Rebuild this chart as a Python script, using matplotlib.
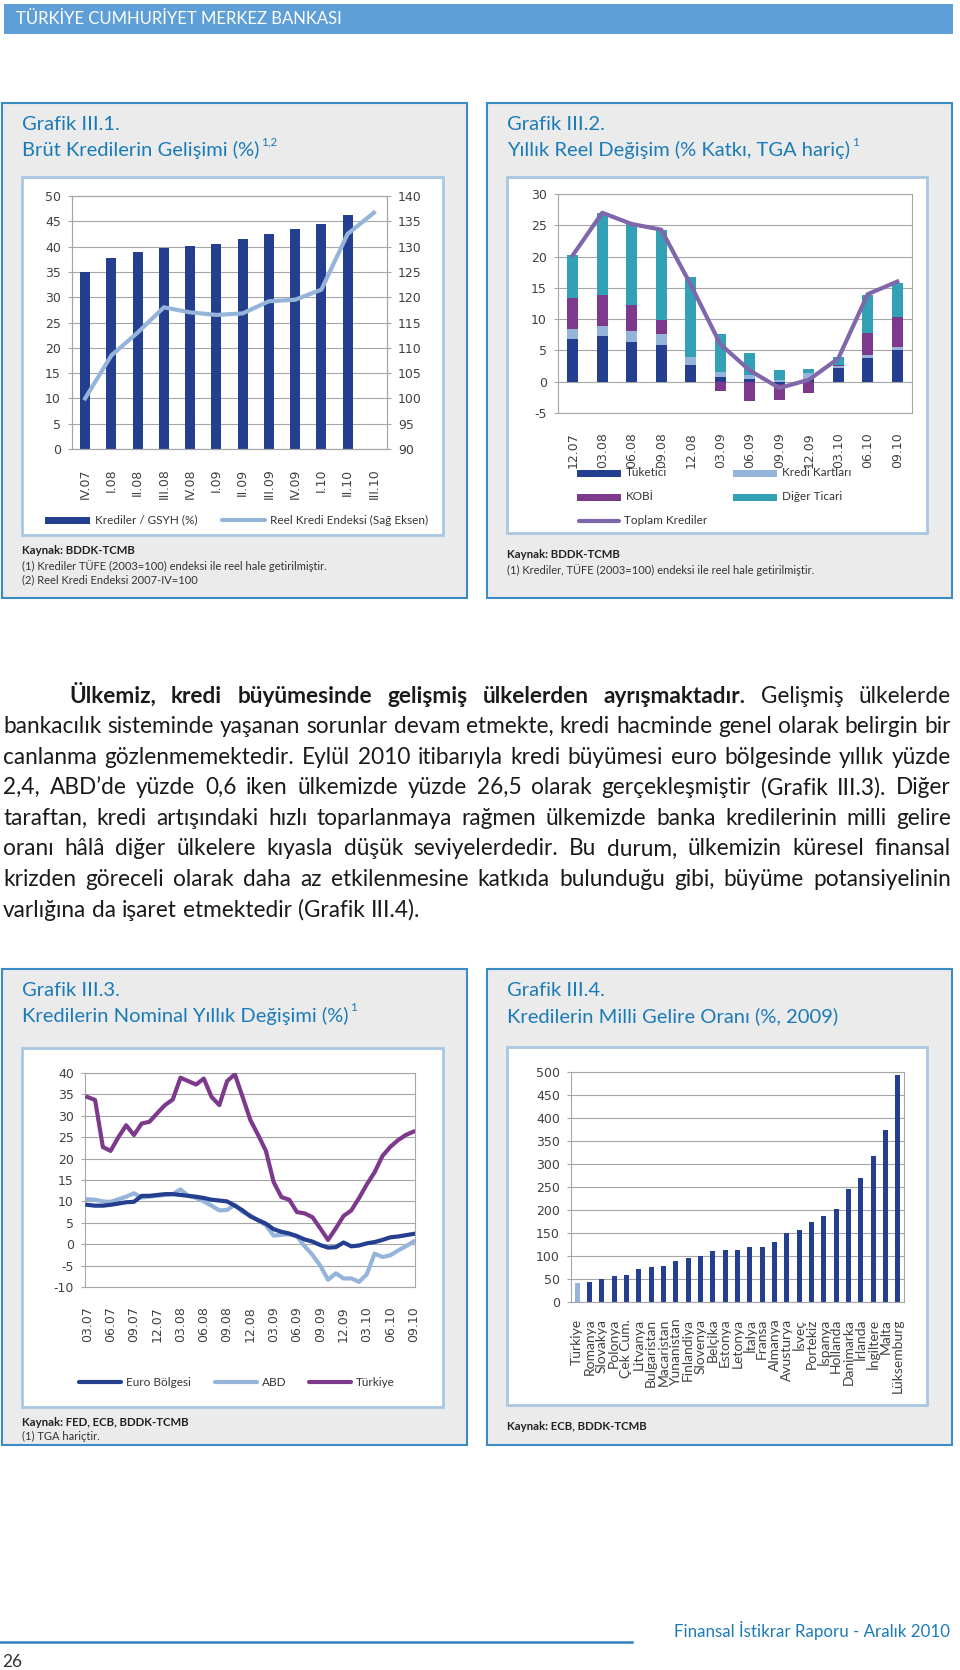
import matplotlib
matplotlib.use("Agg")
import numpy as np
import matplotlib.pyplot as plt
from matplotlib.patches import Rectangle
from matplotlib.lines import Line2D

#####################################################################################
# data

# Grafik III.1
quarters = ["IV.07", "I.08", "II.08", "III.08", "IV.08", "I.09",
            "II.09", "III.09", "IV.09", "I.10", "II.10", "III.10"]
credit_gdp = [35.0, 37.8, 39.0, 39.8, 40.1, 40.6, 41.5, 42.5, 43.5, 44.4, 46.3]
real_credit_idx = [100.0, 108.5, 113.0, 118.0, 117.0, 116.5, 116.8, 119.2,
                   119.5, 121.5, 132.5, 136.7]

# Grafik III.2
periods = ["12.07", "03.08", "06.08", "09.08", "12.08", "03.09",
           "06.09", "09.09", "12.09", "03.10", "06.10", "09.10"]
tuketici = [6.8, 7.3, 6.4, 5.8, 2.6, 0.8, 0.4, -0.3, 0.5, 2.2, 3.8, 5.0]
kredi_kart = [1.6, 1.6, 1.7, 1.8, 1.3, 0.8, 0.7, 0.2, 0.9, 0.3, 0.4, 0.6]
kobi = [5.0, 5.0, 4.2, 2.2, 0.0, -1.5, -3.1, -2.7, -1.8, 0.1, 3.6, 4.7]
diger_ticari = [6.9, 13.1, 12.9, 14.4, 12.9, 6.1, 3.5, 1.6, 0.6, 1.3, 6.1, 5.5]
toplam = [20.2, 27.0, 25.2, 24.3, 15.5, 6.0, 1.8, -1.0, 0.3, 3.7, 14.0, 16.0]

# Grafik III.3 (monthly, 03.07 - 09.10)
month_ticks = ["03.07", "06.07", "09.07", "12.07", "03.08", "06.08", "09.08",
               "12.08", "03.09", "06.09", "09.09", "12.09", "03.10", "06.10", "09.10"]
euro = [9.2, 9.0, 9.0, 9.2, 9.5, 9.8, 9.9, 11.3, 11.3, 11.5, 11.7, 11.7,
        11.5, 11.3, 11.1, 10.8, 10.4, 10.2, 10.0, 9.0, 7.9, 6.5, 5.6, 4.8,
        3.5, 2.9, 2.5, 1.9, 1.1, 0.6, -0.2, -0.8, -0.7, 0.4, -0.5, -0.3,
        0.2, 0.5, 1.0, 1.6, 1.8, 2.1, 2.4]
abd = [10.5, 10.4, 10.0, 9.9, 10.5, 11.1, 11.9, 10.9, 11.1, 11.3, 11.5, 11.7,
       12.8, 11.3, 10.8, 10.0, 9.0, 7.9, 8.0, 9.2, 7.5, 6.7, 5.6, 4.4,
       2.0, 2.2, 2.3, 1.8, -0.5, -2.5, -5.0, -8.3, -6.8, -8.0, -8.0, -8.8,
       -7.0, -2.2, -3.0, -2.6, -1.5, -0.5, 0.6]
turkiye = [34.4, 33.7, 22.7, 21.8, 25.0, 27.8, 25.5, 28.2, 28.6, 30.6, 32.5, 33.8,
           38.9, 38.1, 37.3, 38.7, 34.4, 32.5, 38.1, 39.7, 34.4, 29.0, 25.5, 21.8,
           14.5, 11.0, 10.4, 7.5, 7.2, 6.3, 3.7, 1.0, 3.7, 6.6, 7.9, 10.8,
           14.0, 16.8, 20.6, 22.7, 24.3, 25.5, 26.3]

# Grafik III.4
countries = ["Türkiye", "Romanya", "Slovakya", "Polonya", "Çek Cum.", "Litvanya",
             "Bulgaristan", "Macaristan", "Yunanistan", "Finlandiya", "Slovenya",
             "Belçika", "Estonya", "Letonya", "İtalya", "Fransa", "Almanya",
             "Avusturya", "İsveç", "Portekiz", "İspanya", "Hollanda", "Danimarka",
             "İrlanda", "İngiltere", "Malta", "Lüksemburg"]
credit_income = [42, 43, 49, 56, 58, 72, 77, 78, 90, 96, 101, 110, 114, 114,
                 120, 120, 130, 151, 156, 173, 187, 202, 245, 269, 318, 373, 494]

paragraph_bold = "Ülkemiz, kredi büyümesinde gelişmiş ülkelerden ayrışmaktadır."
paragraph = [
    "Gelişmiş ülkelerde",
    "bankacılık sisteminde yaşanan sorunlar devam etmekte, kredi hacminde genel olarak belirgin bir",
    "canlanma gözlenmemektedir. Eylül 2010 itibarıyla kredi büyümesi euro bölgesinde yıllık yüzde",
    "2,4, ABD’de yüzde 0,6 iken ülkemizde yüzde 26,5 olarak gerçekleşmiştir (Grafik III.3). Diğer",
    "taraftan, kredi artışındaki hızlı toparlanmaya rağmen ülkemizde banka kredilerinin milli gelire",
    "oranı hâlâ diğer ülkelere kıyasla düşük seviyelerdedir. Bu durum, ülkemizin küresel finansal",
    "krizden göreceli olarak daha az etkilenmesine katkıda bulunduğu gibi, büyüme potansiyelinin",
    "varlığına da işaret etmektedir (Grafik III.4).",
]

#####################################################################################
# style

plt.rcParams["axes.unicode_minus"] = False

W, H = 960, 1670
BODY = "Lato"
NUM = "DejaVu Sans"
NAVY = "#243f8f"
LBLUE = "#95b4da"
PURPLE = "#7d3a8d"
TEAL = "#32a0b5"
LAVENDER = "#8066ab"
GRID = "#a6a6a6"
TXT = "#333333"
TICK = "#404040"
TITLE = "#1b7bb8"
PANEL_BG = "#ebebec"
PANEL_EC = "#3b8cc4"
INNER_EC = "#a9c6e3"

fig = plt.figure(figsize=(W / 100, H / 100), dpi=100)
fig.patch.set_facecolor("white")
renderer = fig.canvas.get_renderer()


def fx(x):
    return x / W


def fy(y):
    return 1 - y / H


def box(x0, y0, x1, y1, fc, ec="none", lw=0, z=-5):
    fig.add_artist(Rectangle((fx(x0), fy(y1)), (x1 - x0) / W, (y1 - y0) / H,
                             transform=fig.transFigure, facecolor=fc,
                             edgecolor=ec, linewidth=lw, zorder=z))


def text(x, y, s, size, color=TXT, weight="normal", family=BODY, va="center", **kw):
    return fig.text(fx(x), fy(y), s, fontsize=size, color=color,
                    fontweight=weight, family=family, va=va, **kw)


def add_ax(x0, y0, x1, y1):
    ax = fig.add_axes([fx(x0), fy(y1), (x1 - x0) / W, (y1 - y0) / H])
    ax.set_facecolor("none")
    for s in ax.spines.values():
        s.set_color(GRID)
        s.set_linewidth(0.8)
    ax.grid(axis="y", color=GRID, linewidth=0.8)
    ax.set_axisbelow(True)
    ax.tick_params(axis="y", length=3, color=GRID, labelsize=9,
                   labelcolor=TICK, pad=5)
    ax.tick_params(axis="x", length=0, labelsize=9, labelcolor=TICK,
                   labelrotation=90, pad=14)
    return ax


def leg_patch(x0, x1, y, color, label, h=7):
    box(x0, y - h / 2, x1, y + h / 2, color, z=2)
    text(x1 + 5, y, label, 8.5)


def leg_line(x0, x1, y, color, label):
    fig.add_artist(Line2D([fx(x0), fx(x1)], [fy(y), fy(y)],
                          transform=fig.transFigure, color=color, lw=3,
                          solid_capstyle="round", zorder=2))
    text(x1 + 5, y, label, 8.5)


def panel(x0, y0, x1, y1, inner, title1, title2, sup):
    box(x0, y0, x1, y1, PANEL_BG, PANEL_EC, 1.5, -5)
    box(*inner, "white", INNER_EC, 2.0, -4)
    text(x0 + 20, y0 + 22, title1, 14.5, TITLE)
    t = text(x0 + 20, y0 + 47, title2, 14.5, TITLE)
    right = t.get_window_extent(renderer).x1
    text(right + 2, y0 + 39, sup, 8.5, TITLE)


def justify(y, words, x0, x1, size, last=False):
    arts = [text(0, y, w, size, "#1a1a1a", wt, va="baseline") for w, wt in words]
    widths = [a.get_window_extent(renderer).width for a in arts]
    if last:
        gap = size * 100 / 72 * 0.26
    else:
        gap = (x1 - x0 - sum(widths)) / (len(arts) - 1)
    x = x0
    for a, w in zip(arts, widths):
        a.set_x(fx(x))
        x += w + gap


#####################################################################################
# header / footer

box(4, 4, 953, 34, "#5d9fd6", z=-5)
text(16, 19, "TÜRKİYE CUMHURİYET MERKEZ BANKASI", 12, "white")

fig.add_artist(Line2D([fx(0), fx(632)], [fy(1642), fy(1642)],
                      transform=fig.transFigure, color="#2e7fbf", lw=1.8))
text(2, 1662, "26", 12.5, TXT)
text(674, 1630, "Finansal İstikrar Raporu - Aralık 2010", 12.2, TITLE)

#####################################################################################
# Grafik III.1

panel(2, 103, 467, 598, (22, 177, 443, 535), "Grafik III.1.",
      "Brüt Kredilerin Gelişimi (%)", "1,2")
ax1 = add_ax(72, 196, 387, 449)
x = np.arange(len(quarters))
ax1.bar(np.arange(len(credit_gdp)), credit_gdp, width=0.38, color=NAVY, zorder=2)
ax1.set_xlim(-0.5, len(quarters) - 0.5)
ax1.set_ylim(0, 50)
ax1.set_yticks(np.arange(0, 51, 5))
ax1.set_xticks(x)
ax1.set_xticklabels(quarters, family=NUM)
for lb in ax1.get_yticklabels():
    lb.set_family(NUM)
ax1r = ax1.twinx()
ax1r.plot(x, real_credit_idx, color=LBLUE, lw=3, solid_joinstyle="round", zorder=3)
ax1r.set_ylim(90, 140)
ax1r.set_yticks(np.arange(90, 141, 5))
ax1r.tick_params(axis="y", length=3, color=GRID, labelsize=9, labelcolor=TICK, pad=5)
for lb in ax1r.get_yticklabels():
    lb.set_family(NUM)
for s in ax1r.spines.values():
    s.set_color(GRID)
    s.set_linewidth(0.8)

leg_patch(45, 90, 520, NAVY, "Krediler / GSYH (%)")
leg_line(222, 265, 520, LBLUE, "Reel Kredi Endeksi (Sağ Eksen)")

text(22, 551, "Kaynak: BDDK-TCMB", 8.2, "#222222", "bold")
text(22, 566, "(1) Krediler TÜFE (2003=100) endeksi ile reel hale getirilmiştir.", 8)
text(22, 580, "(2) Reel Kredi Endeksi 2007-IV=100", 8)

#####################################################################################
# Grafik III.2

panel(487, 103, 952, 598, (507, 177, 927, 533), "Grafik III.2.",
      "Yıllık Reel Değişim (% Katkı, TGA hariç)", "1")
ax2 = add_ax(558, 194, 912, 413)
x = np.arange(len(periods))
pos = np.zeros(len(periods))
neg = np.zeros(len(periods))
for vals, c in [(tuketici, NAVY), (kredi_kart, LBLUE), (kobi, PURPLE), (diger_ticari, TEAL)]:
    v = np.array(vals)
    base = np.where(v >= 0, pos, neg)
    ax2.bar(x, v, bottom=base, width=0.37, color=c, zorder=2)
    pos += np.where(v >= 0, v, 0)
    neg += np.where(v < 0, v, 0)
ax2.plot(x, toplam, color=LAVENDER, lw=3, solid_joinstyle="round", zorder=3)
ax2.set_xlim(-0.5, len(periods) - 0.5)
ax2.set_ylim(-5, 30)
ax2.set_yticks(np.arange(-5, 31, 5))
ax2.set_xticks(x)
ax2.set_xticklabels(periods, family=NUM)
for lb in ax2.get_yticklabels():
    lb.set_family(NUM)

leg_patch(577, 621, 473, NAVY, "Tüketici")
leg_patch(733, 777, 473, LBLUE, "Kredi Kartları")
leg_patch(577, 621, 497, PURPLE, "KOBİ")
leg_patch(733, 777, 497, TEAL, "Diğer Ticari")
leg_line(579, 619, 521, LAVENDER, "Toplam Krediler")

text(507, 555, "Kaynak: BDDK-TCMB", 8.2, "#222222", "bold")
text(507, 570, "(1) Krediler, TÜFE (2003=100) endeksi ile reel hale getirilmiştir.", 8)

#####################################################################################
# paragraph, font size fitted so the tightest line fills the column

probe = text(0, 0, paragraph[1], 10, va="baseline")
PARA_SIZE = 10 * 944 / probe.get_window_extent(renderer).width
probe.remove()

first = [(w, "bold") for w in paragraph_bold.split()] + \
        [(w, "normal") for w in paragraph[0].split()]
justify(703, first, 69, 951, PARA_SIZE)
for i, line in enumerate(paragraph[1:]):
    justify(733 + i * 30.6, [(w, "normal") for w in line.split()], 3, 951,
            PARA_SIZE, last=(i == len(paragraph) - 2))

#####################################################################################
# Grafik III.3

panel(2, 969, 467, 1445, (22, 1048, 443, 1407), "Grafik III.3.",
      "Kredilerin Nominal Yıllık Değişimi (%)", "1")
ax3 = add_ax(85, 1073, 415, 1287)
m = np.arange(len(turkiye))
ax3.plot(m, euro, color=NAVY, lw=3, zorder=3)
ax3.plot(m, abd, color=LBLUE, lw=3, zorder=2)
ax3.plot(m, turkiye, color=PURPLE, lw=3, zorder=4)
ax3.set_xlim(-0.3, len(turkiye) - 0.8)
ax3.set_ylim(-10, 40)
ax3.set_yticks(np.arange(-10, 41, 5))
ax3.set_xticks(np.arange(0, len(turkiye), 3))
ax3.set_xticklabels(month_ticks, family=NUM)
for lb in ax3.get_yticklabels():
    lb.set_family(NUM)

leg_line(79, 121, 1382, NAVY, "Euro Bölgesi")
leg_line(215, 257, 1382, LBLUE, "ABD")
leg_line(309, 351, 1382, PURPLE, "Türkiye")

text(22, 1422, "Kaynak: FED, ECB, BDDK-TCMB", 8.2, "#222222", "bold")
text(22, 1436, "(1) TGA hariçtir.", 8)

#####################################################################################
# Grafik III.4

panel(487, 969, 952, 1445, (507, 1047, 927, 1405), "Grafik III.4.",
      "Kredilerin Milli Gelire Oranı (%, 2009)", "")
ax4 = add_ax(571, 1072, 904, 1302)
x = np.arange(len(countries))
colors = [LBLUE] + [NAVY] * (len(countries) - 1)
ax4.bar(x, credit_income, width=0.4, color=colors, zorder=2)
ax4.set_xlim(-0.5, len(countries) - 0.5)
ax4.set_ylim(0, 500)
ax4.set_yticks(np.arange(0, 501, 50))
ax4.set_xticks(x)
ax4.set_xticklabels(countries, family=BODY, fontsize=10)
ax4.tick_params(axis="x", pad=12)
for lb in ax4.get_yticklabels():
    lb.set_family(NUM)

text(507, 1426, "Kaynak: ECB, BDDK-TCMB", 8.2, "#222222", "bold")

fig.savefig("out.png", dpi=100, facecolor="white")
